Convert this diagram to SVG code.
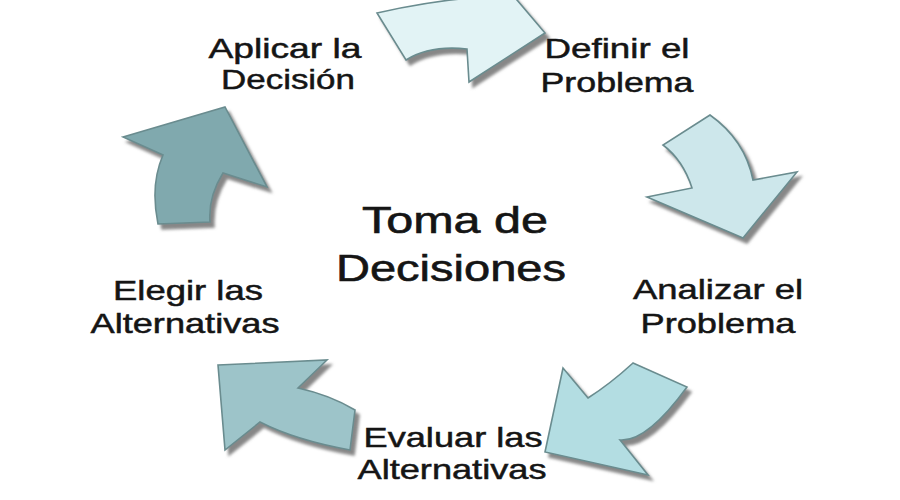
<svg xmlns="http://www.w3.org/2000/svg" width="900" height="500" viewBox="0 0 900 500">
<defs>
<filter id="sh" x="-20%" y="-20%" width="140%" height="140%">
<feGaussianBlur in="SourceAlpha" stdDeviation="1.5" result="b"/>
<feOffset in="b" dx="4" dy="5" result="o"/>
<feFlood flood-color="#7a7a7a" flood-opacity="0.9"/>
<feComposite in2="o" operator="in" result="s"/>
<feMerge><feMergeNode in="s"/><feMergeNode in="SourceGraphic"/></feMerge>
</filter>
<style>
.arr{stroke:#6a8c8f;stroke-width:1.6;stroke-linejoin:miter;filter:url(#sh)}
.lbl{font-family:"Liberation Sans",Arial,sans-serif;font-size:28px;fill:#151515;stroke:#151515;stroke-width:0.5;text-anchor:middle}
.ttl{font-family:"Liberation Sans",Arial,sans-serif;font-size:36px;fill:#151515;stroke:#151515;stroke-width:0.6;text-anchor:middle}
</style>
</defs>
<rect width="900" height="500" fill="#ffffff"/>
<g id="connectors">
<path id="arrow-top" class="arr" fill="#e2f3f5" d="M377,13 Q425,2 470,-2 L472,-20 L500,-20 L545,33 L469,82 L467,49 Q430,45 406,60 Z"/>
<path id="arrow-right" class="arr" fill="#cde7eb" d="M710,115 L663,145 Q683,160 692,188 L647,197 L743,238 L797,172 L753,180 Q745,140 710,115 Z"/>
<path id="arrow-bottom-right" class="arr" fill="#b3dde2" d="M633,363 L687,387 Q647,442 620,440 L648,475 L545,452 L563,368 L588,398 Q610,384 633,363 Z"/>
<path id="arrow-bottom-left" class="arr" fill="#9dc4c9" d="M218,365 L327,360 L298,388 Q330,395 355,410 L350,450 Q295,440 260,422 L225,450 Z"/>
<path id="arrow-left" class="arr" fill="#80a9ae" d="M123,137 L225,107 L267,187 L223,173 Q208,197 210,222 L158,224 Q150,185 163,155 Z"/>
</g>
<g id="center">
<text class="ttl" x="455" y="233" textLength="186" lengthAdjust="spacingAndGlyphs">Toma de</text>
<text class="ttl" x="451" y="281" textLength="230" lengthAdjust="spacingAndGlyphs">Decisiones</text>
</g>
<g id="node-definir">
<text class="lbl" x="617" y="58" textLength="145" lengthAdjust="spacingAndGlyphs">Definir el</text>
<text class="lbl" x="617" y="92" textLength="153" lengthAdjust="spacingAndGlyphs">Problema</text>
</g>
<g id="node-analizar">
<text class="lbl" x="718" y="299" textLength="170" lengthAdjust="spacingAndGlyphs">Analizar el</text>
<text class="lbl" x="718" y="333" textLength="155" lengthAdjust="spacingAndGlyphs">Problema</text>
</g>
<g id="node-evaluar">
<text class="lbl" x="453" y="447" textLength="179" lengthAdjust="spacingAndGlyphs">Evaluar las</text>
<text class="lbl" x="452" y="479" textLength="189" lengthAdjust="spacingAndGlyphs">Alternativas</text>
</g>
<g id="node-elegir">
<text class="lbl" x="188" y="300" textLength="150" lengthAdjust="spacingAndGlyphs">Elegir las</text>
<text class="lbl" x="185" y="333" textLength="189" lengthAdjust="spacingAndGlyphs">Alternativas</text>
</g>
<g id="node-aplicar">
<text class="lbl" x="285" y="58" textLength="153" lengthAdjust="spacingAndGlyphs">Aplicar la</text>
<text class="lbl" x="288" y="89" textLength="134" lengthAdjust="spacingAndGlyphs">Decisión</text>
</g>
</svg>
